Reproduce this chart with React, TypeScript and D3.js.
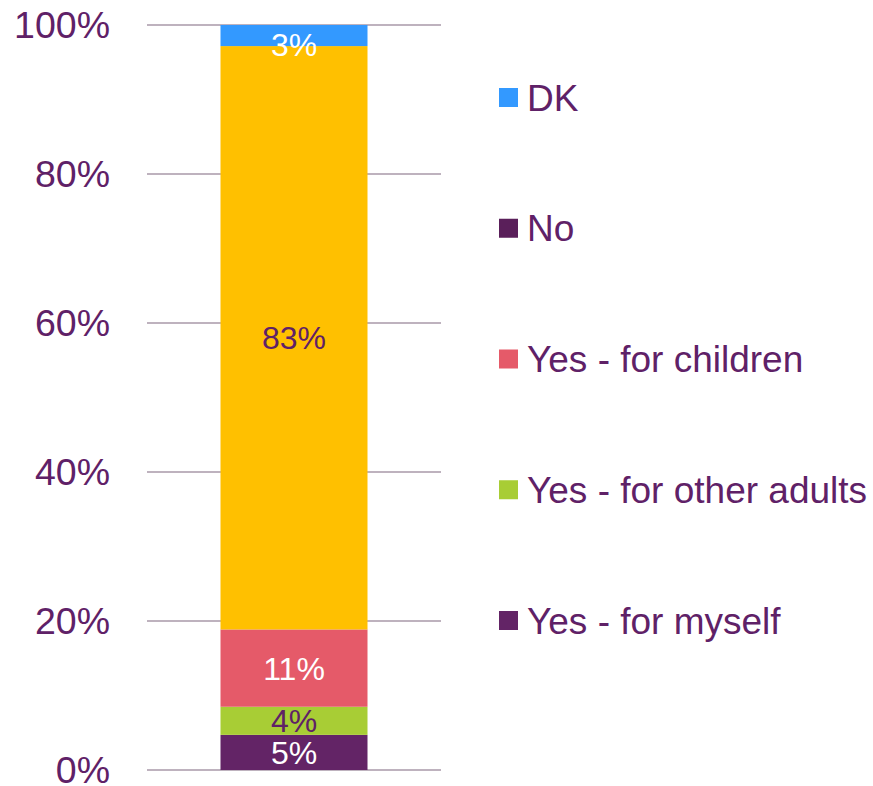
import React from "react";
import * as d3 from "d3";

const categories = ["Yes - for myself", "Yes - for other adults", "Yes - for children", "No", "DK"];
const values = [5, 4, 11, 83, 3];
const barColors = ["#632466", "#a8cd35", "#e55a69", "#ffc000", "#3399ff"];
const legendColors = ["#632466", "#a8cd35", "#e55a69", "#5a1f5a", "#3399ff"];
const labelColors = ["#ffffff", "#5f2167", "#ffffff", "#5f2167", "#ffffff"];
const ticks = [0, 0.2, 0.4, 0.6, 0.8, 1];

const W = 873;
const H = 786;
const TEXT = "#5f2167";
const FONT = "'Liberation Sans', Arial, sans-serif";

export default function App() {
  const top = 25;
  const bottom = 770;
  const y = d3.scaleLinear().domain([0, 1]).range([bottom, top]);
  const x = d3.scaleBand().domain(["bar"]).range([147, 441]).paddingInner(0).paddingOuter(0.5);

  const total = d3.sum(values);
  const row: Record<string, number> = {};
  categories.forEach((c, i) => (row[c] = values[i] / total));
  const series = d3.stack<Record<string, number>>().keys(categories)([row]);

  const legendY = d3.scalePoint().domain(categories.slice().reverse()).range([97.5, 620.5]);

  return (
    <svg width={W} height={H} style={{ position: "absolute", left: 0, top: 0 }} fontFamily={FONT}>
      {ticks.map((t) => (
        <g key={t}>
          <line x1={147} x2={441} y1={y(t)} y2={y(t)} stroke="#a898a8" strokeWidth={1.5} />
          <text x={110} y={y(t) + 12.5} textAnchor="end" fontSize={37.5} fill={TEXT}>
            {d3.format(".0%")(t)}
          </text>
        </g>
      ))}
      {series.map((s, i) => {
        const d = s[0];
        const y0 = y(d[0]);
        const y1 = y(d[1]);
        let cy = (y0 + y1) / 2;
        cy = Math.max(cy, top + 19);
        return (
          <g key={categories[i]}>
            <rect x={x("bar")} width={x.bandwidth()} y={y1} height={y0 - y1} fill={barColors[i]} />
            <text
              x={(x("bar") as number) + x.bandwidth() / 2}
              y={cy + 11.5}
              textAnchor="middle"
              fontSize={32}
              fill={labelColors[i]}
            >
              {values[i]}%
            </text>
          </g>
        );
      })}
      {categories.map((c, i) => (
        <g key={c}>
          <rect x={499} y={(legendY(c) as number) - 9.5} width={19} height={19} fill={legendColors[i]} />
          <text x={527} y={(legendY(c) as number) + 13} fontSize={37} fill={TEXT}>
            {c}
          </text>
        </g>
      ))}
    </svg>
  );
}
